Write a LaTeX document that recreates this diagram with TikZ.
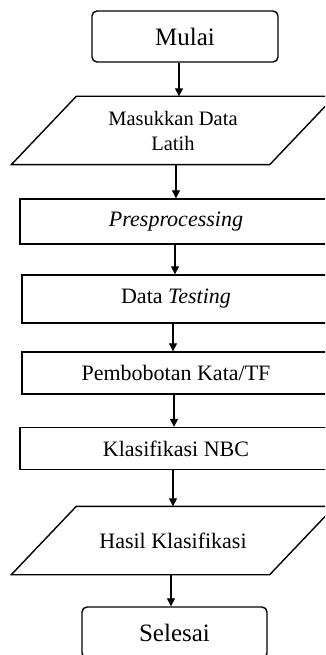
\documentclass[tikz,border=0pt]{standalone}
\usepackage{fontspec}
\setmainfont{Liberation Serif}
\usetikzlibrary{arrows.meta}
\begin{document}
\begin{tikzpicture}[x=1pt,y=-1pt,
  line width=1.4pt,
  txt/.style={font=\fontsize{22}{26}\selectfont},
  bigtxt/.style={font=\fontsize{25}{29}\selectfont},
  term/.style={draw, rounded corners=5pt, inner sep=0pt, bigtxt},
  procbox/.style={draw, rectangle, inner sep=0pt, txt},
  iohelp/.style={rectangle, inner sep=0pt, align=center},
  arr/.style={-{Triangle[length=8pt,width=8pt]}, line width=1.3pt}]
\useasboundingbox (0,0) rectangle (325,655);
\clip (0,0) rectangle (325,655);

\node[term, minimum width=186pt, minimum height=51pt] (mulai) at (185,36.5) {Mulai};

\node[iohelp, minimum width=257pt, minimum height=67pt,
      font=\fontsize{20.5}{25}\selectfont] (masuk) at (173,130.5) {Masukkan Data\\Latih};
\draw ([xshift=32.5pt]masuk.north west) -- ([xshift=32.5pt]masuk.north east)
   -- ([xshift=-32.5pt]masuk.south east) -- ([xshift=-32.5pt]masuk.south west) -- cycle;

\node[procbox, minimum width=312pt, minimum height=45pt] (pre) at (176,221.5) {\textit{Presprocessing}};
\node[procbox, minimum width=308pt, minimum height=48pt] (test) at (176,299) {Data \textit{Testing}};
\node[procbox, minimum width=308pt, minimum height=42pt] (bobot) at (176,373) {Pembobotan Kata/TF};
\node[procbox, minimum width=312pt, minimum height=42pt] (nbc) at (176,448.5) {Klasifikasi NBC};

\node[iohelp, minimum width=257pt, minimum height=67pt, txt] (hasil) at (173,540.5) {Hasil Klasifikasi};
\draw ([xshift=32.5pt]hasil.north west) -- ([xshift=32.5pt]hasil.north east)
   -- ([xshift=-32.5pt]hasil.south east) -- ([xshift=-32.5pt]hasil.south west) -- cycle;

\node[term, minimum width=185pt, minimum height=51pt] (selesai) at (174.5,632.5) {Selesai};

\draw[arr] ([xshift=-6pt]mulai.south) -- ([xshift=6pt]masuk.north);
\draw[arr] ([xshift=3pt]masuk.south) -- (pre.north);
\draw[arr] ([xshift=-1pt]pre.south) -- ([xshift=-1pt]test.north);
\draw[arr] ([xshift=-3pt]test.south) -- ([xshift=-3pt]bobot.north);
\draw[arr] ([xshift=-2pt]bobot.south) -- ([xshift=-2pt]nbc.north);
\draw[arr] ([xshift=-3pt]nbc.south) -- (hasil.north);
\draw[arr] ([xshift=-2pt]hasil.south) -- ([xshift=-3.5pt]selesai.north);
\end{tikzpicture}
\end{document}
